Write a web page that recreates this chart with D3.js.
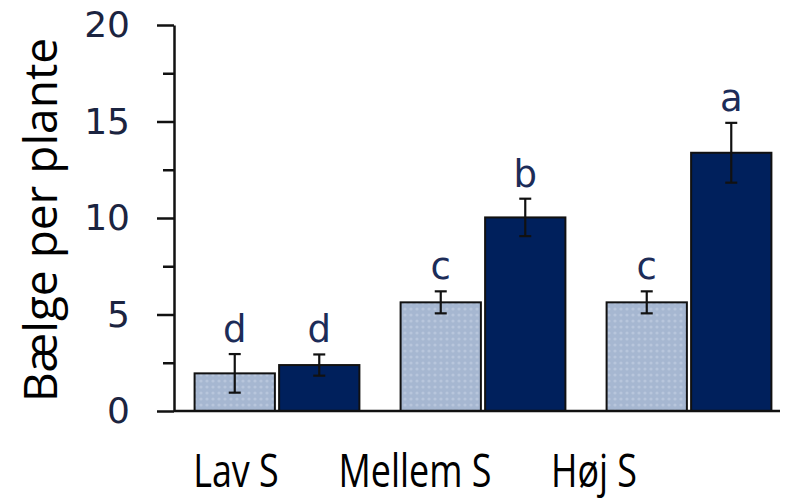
<!DOCTYPE html>
<html>
<head>
<meta charset="utf-8">
<script src="https://cdn.jsdelivr.net/npm/d3@7"></script>
<style>
  body { margin: 0; background: #fff; }
  svg { display: block; }
</style>
</head>
<body>
<svg id="chart"></svg>
<script>
// data
const categories = ['Lav S', 'Mellem S', 'Høj S'];
const series = ['low', 'high'];
const lowMeans = [1.95, 5.63, 5.63];
const lowErrors = [1.0, 0.57, 0.57];
const highMeans = [2.38, 10.03, 13.38];
const highErrors = [0.55, 0.97, 1.55];
const lowLetters = ['d', 'c', 'c'];
const highLetters = ['d', 'b', 'a'];
const yTicks = [0, 5, 10, 15, 20];
const yMinorTicks = [2.5, 7.5, 12.5, 17.5];

const W = 785, H = 502;
const plotLeft = 174, plotRight = 792, plotTop = 25, plotBottom = 411;

const svg = d3.select('#chart').attr('width', W).attr('height', H);

const rows = [];
categories.forEach((c, i) => {
  rows.push({ cat: c, s: 'low', v: lowMeans[i], e: lowErrors[i], l: lowLetters[i] });
  rows.push({ cat: c, s: 'high', v: highMeans[i], e: highErrors[i], l: highLetters[i] });
});

const x0 = d3.scaleBand().domain(categories).range([plotLeft, plotRight])
  .paddingInner(0.2).paddingOuter(0.1);
const x1 = d3.scaleBand().domain(series).range([0, x0.bandwidth()]).paddingInner(0.05);
const y = d3.scaleLinear().domain([0, 20]).range([plotBottom, plotTop]);
const labelX = d3.scalePoint().domain(categories).range([236, 594]);

// texture for the light bars
const defs = svg.append('defs');
const pat = defs.append('pattern').attr('id', 'tex')
  .attr('width', 6).attr('height', 6).attr('patternUnits', 'userSpaceOnUse');
pat.append('rect').attr('width', 6).attr('height', 6).attr('fill', '#a6b7d1');
pat.append('circle').attr('cx', 3).attr('cy', 3).attr('r', 1.6).attr('fill', '#b8c6dc');

const fills = { low: 'url(#tex)', high: '#00205c' };

// bars
svg.selectAll('rect.bar')
  .data(rows)
  .enter()
  .append('rect')
  .attr('class', 'bar')
  .attr('x', d => x0(d.cat) + x1(d.s))
  .attr('y', d => y(d.v))
  .attr('width', x1.bandwidth())
  .attr('height', d => y(0) - y(d.v))
  .attr('fill', d => fills[d.s])
  .attr('stroke', '#111')
  .attr('stroke-width', 2);

// error bars
const cx = d => x0(d.cat) + x1(d.s) + x1.bandwidth() / 2;
const err = svg.append('g').attr('stroke', '#111').attr('stroke-width', 2.2);
err.selectAll('line.v').data(rows).enter().append('line')
  .attr('x1', cx).attr('x2', cx)
  .attr('y1', d => y(d.v + d.e)).attr('y2', d => y(d.v - d.e));
err.selectAll('line.t').data(rows).enter().append('line')
  .attr('x1', d => cx(d) - 6).attr('x2', d => cx(d) + 6)
  .attr('y1', d => y(d.v + d.e)).attr('y2', d => y(d.v + d.e));
err.selectAll('line.b').data(rows).enter().append('line')
  .attr('x1', d => cx(d) - 6).attr('x2', d => cx(d) + 6)
  .attr('y1', d => y(d.v - d.e)).attr('y2', d => y(d.v - d.e));

// significance letters
svg.selectAll('text.sig')
  .data(rows)
  .enter()
  .append('text')
  .attr('class', 'sig')
  .attr('x', cx)
  .attr('y', d => y(d.v + d.e) - 12)
  .attr('text-anchor', 'middle')
  .attr('font-family', 'DejaVu Sans')
  .attr('font-size', 37)
  .attr('fill', '#1c2c58')
  .text(d => d.l);

// y axis, major + minor ticks
const yAxis = svg.append('g')
  .attr('transform', `translate(${plotLeft},0)`)
  .call(d3.axisLeft(y).tickValues(yTicks).tickSize(17).tickPadding(27).tickSizeOuter(0));
yAxis.select('.domain').attr('stroke', '#111').attr('stroke-width', 2.5);
yAxis.selectAll('.tick line').attr('stroke', '#111').attr('stroke-width', 2.5);
yAxis.selectAll('.tick text')
  .attr('font-family', 'DejaVu Sans')
  .attr('font-size', 36)
  .attr('fill', '#1b2440');

const yMinor = svg.append('g')
  .attr('transform', `translate(${plotLeft},0)`)
  .call(d3.axisLeft(y).tickValues(yMinorTicks).tickSize(11).tickFormat(''));
yMinor.select('.domain').remove();
yMinor.selectAll('.tick line').attr('stroke', '#111').attr('stroke-width', 2.5);

// x axis baseline
svg.append('line')
  .attr('x1', plotLeft).attr('x2', 780)
  .attr('y1', y(0)).attr('y2', y(0))
  .attr('stroke', '#111').attr('stroke-width', 2.5);

// category labels
svg.selectAll('text.cat')
  .data(categories)
  .enter()
  .append('text')
  .attr('class', 'cat')
  .attr('transform', d => `translate(${labelX(d)},487) scale(0.78,1)`)
  .attr('text-anchor', 'middle')
  .attr('font-family', 'Open Sans')
  .attr('font-size', 46)
  .attr('fill', '#000')
  .text(d => d);

// y axis title
svg.append('text')
  .attr('transform', `translate(57,${(plotTop + plotBottom) / 2 + 2}) rotate(-90)`)
  .attr('text-anchor', 'middle')
  .attr('font-family', 'Open Sans')
  .attr('font-size', 46)
  .attr('fill', '#000')
  .text('Bælge per plante');
</script>
</body>
</html>
